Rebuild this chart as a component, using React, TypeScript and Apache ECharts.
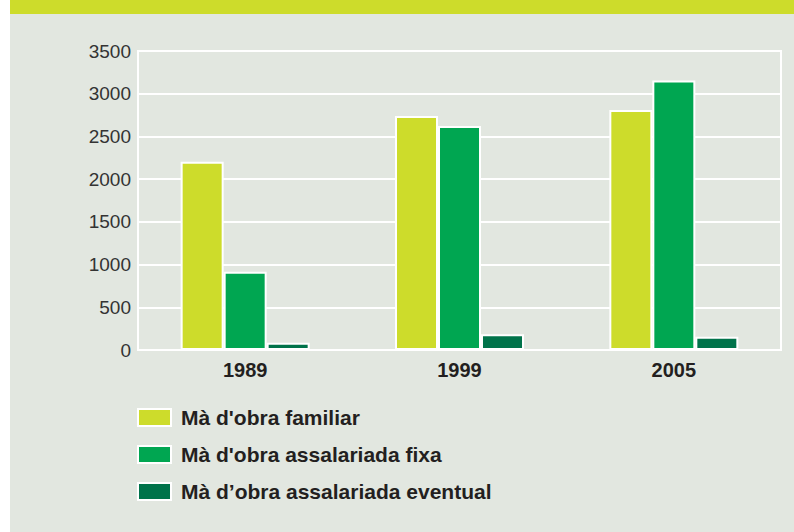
import React, { useEffect, useRef } from "react";
import * as echarts from "echarts";

const categories = ["1989", "1999", "2005"];
const seriesNames = [
  "Mà d'obra familiar",
  "Mà d'obra assalariada fixa",
  "Mà d’obra assalariada eventual",
];
const familiar = [2205, 2740, 2810];
const fixa = [917, 2623, 3154];
const eventual = [85, 184, 156];
const colors = ["#cddc2b", "#00a651", "#00734a"];

export default function App() {
  const ref = useRef<HTMLDivElement>(null);
  useEffect(() => {
    if (!ref.current) return;
    const chart = echarts.init(ref.current, undefined, { renderer: "svg" });
    const values = [familiar, fixa, eventual];
    chart.setOption({
      animation: false,
      backgroundColor: "#ffffff",
      graphic: [
        { type: "rect", left: 10, top: 0, shape: { width: 784, height: 532 }, style: { fill: "#e2e7e0" }, z: -10 },
        { type: "rect", left: 10, top: 0, shape: { width: 784, height: 14 }, style: { fill: "#cddc2b" }, z: -9 },
      ],
      grid: {
        left: 138,
        right: 13,
        top: 51,
        bottom: 182,
        show: true,
        borderColor: "#ffffff",
        borderWidth: 2,
        backgroundColor: "transparent",
      },
      legend: {
        orient: "vertical",
        left: 137,
        top: 407,
        padding: 0,
        itemWidth: 33,
        itemHeight: 17,
        itemGap: 16,
        icon: "rect",
        selectedMode: false,
        data: seriesNames,
        textStyle: {
          fontFamily: "Liberation Sans, Arial, sans-serif",
          fontSize: 21,
          lineHeight: 21,
          fontWeight: "bold",
          color: "#231f20",
          padding: [0, 0, 0, 5],
        },
      },
      xAxis: {
        type: "category",
        data: categories,
        axisLine: { lineStyle: { color: "#ffffff", width: 2 } },
        axisTick: { show: false },
        axisLabel: {
          fontFamily: "Liberation Sans, Arial, sans-serif",
          fontSize: 20,
          fontWeight: "bold",
          color: "#231f20",
          margin: 10,
        },
      },
      yAxis: {
        type: "value",
        min: 0,
        max: 3500,
        interval: 500,
        axisLine: { show: false },
        axisTick: { show: false },
        splitLine: { lineStyle: { color: "#ffffff", width: 2 } },
        axisLabel: {
          fontFamily: "Liberation Sans, Arial, sans-serif",
          fontSize: 19,
          color: "#333333",
          margin: 7,
          formatter: (v: number) => String(v),
        },
      },
      series: seriesNames.map((name, i) => ({
        name,
        type: "bar",
        data: values[i],
        barWidth: 43,
        barGap: "0%",
        itemStyle: { color: colors[i], borderColor: "#ffffff", borderWidth: 2 },
      })),
    });
    return () => chart.dispose();
  }, []);
  return (
    <div
      ref={ref}
      style={{ position: "absolute", left: 0, top: 0, width: 794, height: 532 }}
    />
  );
}
